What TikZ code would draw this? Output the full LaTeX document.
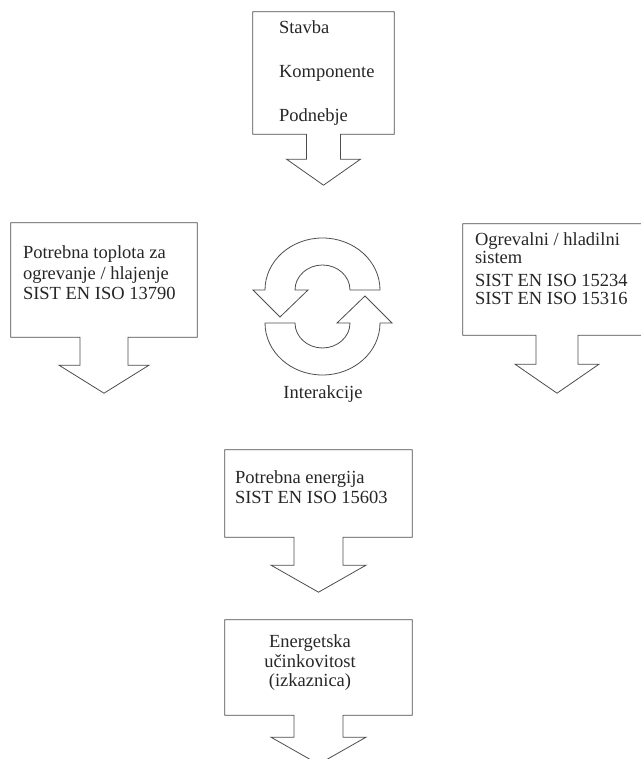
\documentclass[tikz,border=0pt]{standalone}
\usepackage{fontspec}
\setmainfont{Liberation Serif}
\usetikzlibrary{calc}

% box whose bottom edge opens into a block arrow pointing down
\newcommand\boxarrow[5]{%
  \draw[outline] ($(#1.south)+(-#2,0)$) -- (#1.south west) -- (#1.north west)
    -- (#1.north east) -- (#1.south east) -- ($(#1.south)+(#2,0)$)
    -- ++(0,-#4) -- ++({#3-#2},0) -- ($(#1.south)+(0,{-#4-#5})$)
    -- ($(#1.south)+(-#3,-#4)$) -- ++({#3-#2},0) -- cycle;
}

\begin{document}
\begin{tikzpicture}[x=1pt,y=1pt,
  outline/.style={draw=black!70,line width=0.8pt},
  frame/.style={rectangle,inner sep=0pt},
  txt/.style={inner sep=0pt,align=left,text=black!85,font=\fontsize{18.5}{20}\selectfont}]
\useasboundingbox (0,0) rectangle (640,759);

\node[frame,minimum width=141pt,minimum height=122pt] (input) at (323.5,686) {};
\boxarrow{input}{17}{37}{25}{26}
\node[txt,anchor=north west] (inputtxt) at ([xshift=26pt,yshift=-9pt]input.north west) {Stavba\\[24pt]Komponente\\[24pt]Podnebje};

\node[frame,minimum width=186pt,minimum height=114pt] (heat) at (104,479) {};
\boxarrow{heat}{24}{45}{28}{28}
\node[txt,anchor=north west,font=\fontsize{18.5}{20.5}\selectfont] (heattxt) at ([xshift=12pt,yshift=-23pt]heat.north west) {Potrebna toplota za\\ogrevanje / hlajenje\\SIST EN ISO 13790};

\node[frame,minimum width=188pt,minimum height=111pt] (system) at (557,479.5) {};
\boxarrow{system}{21}{42}{29}{29}
\node[txt,anchor=north west] (systemtxt) at ([xshift=12pt,yshift=-9pt]system.north west) {Ogrevalni / hladilni\\[-2pt]sistem\\[3pt]SIST EN ISO 15234\\[-2pt]SIST EN ISO 15316};

% interaction cycle
\foreach \cy/\ang in {469/0,436/180}
  \draw[outline,shift={(322.5,\cy)},rotate=\ang] (27.5,0) -- (57.5,0)
    arc[start angle=0,end angle=180,x radius=57.5pt,y radius=52pt]
    -- (-69.5,0) -- (-42.5,-27) -- (-14.5,0) -- (-27.5,0)
    arc[start angle=180,end angle=0,x radius=27.5pt,y radius=25pt] -- cycle;
\node[txt] (cycle) at (323,364.5) {Interakcije};

\node[frame,minimum width=187pt,minimum height=87pt] (energy) at (318.5,265.5) {};
\boxarrow{energy}{24.5}{47.5}{28}{27}
\node[txt,anchor=north west] (energytxt) at ([xshift=10pt,yshift=-21pt]energy.north west) {Potrebna energija\\SIST EN ISO 15603};

\node[frame,minimum width=187pt,minimum height=95pt] (rating) at (318.5,91.5) {};
\boxarrow{rating}{24.5}{47.5}{22}{27}
\node[txt,anchor=north,align=center,font=\fontsize{18.5}{19.5}\selectfont] (ratingtxt) at ([xshift=-8.5pt,yshift=-15pt]rating.north) {Energetska\\učinkovitost\\(izkaznica)};
\end{tikzpicture}
\end{document}
